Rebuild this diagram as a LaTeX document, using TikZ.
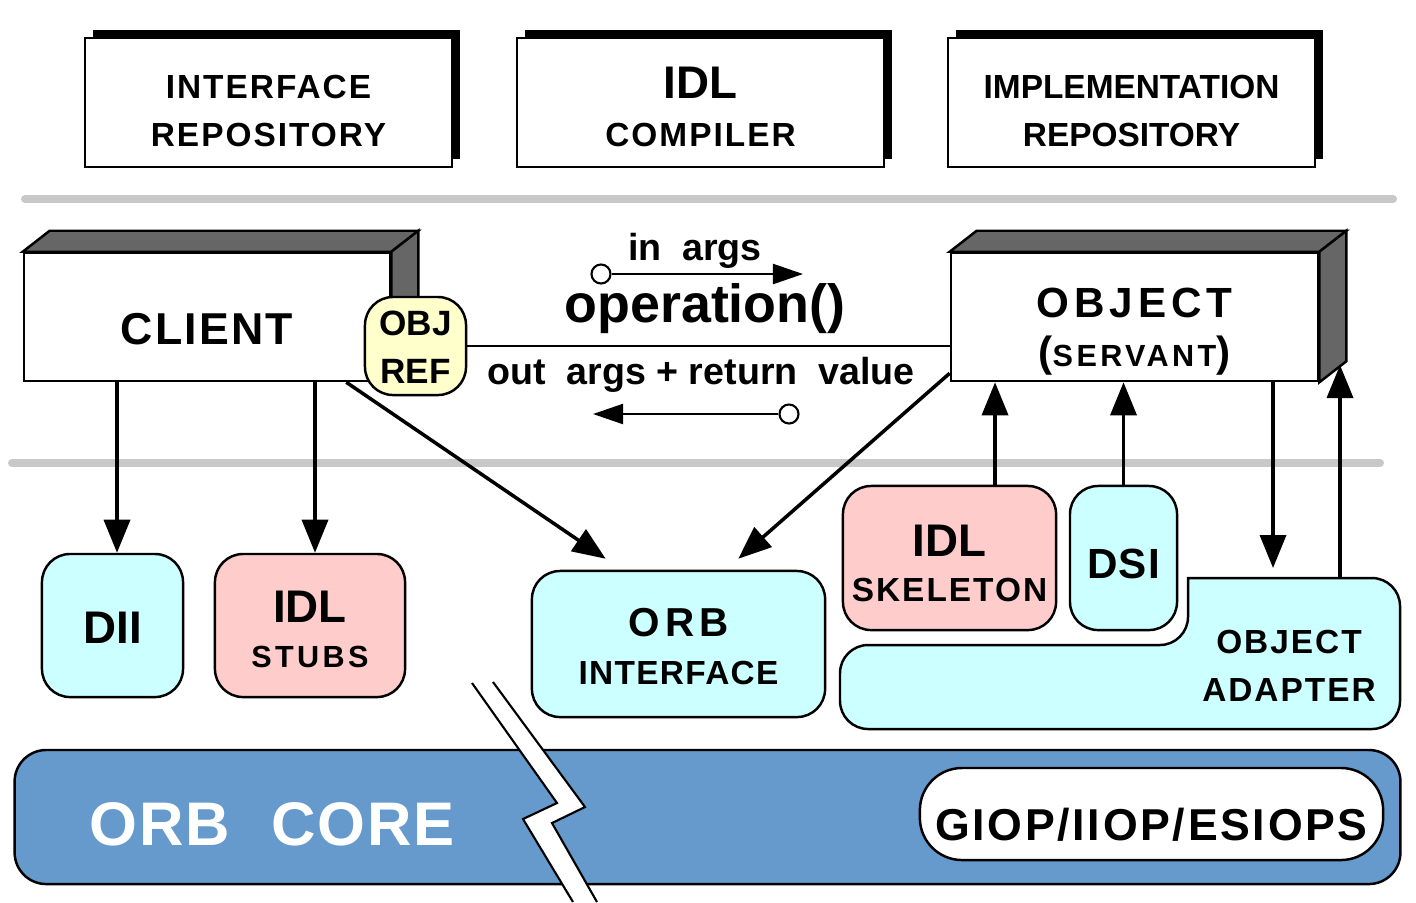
\documentclass[tikz,border=0pt]{standalone}
\usepackage{fontspec}
\setmainfont{Liberation Sans}
\usetikzlibrary{arrows.meta,shadows}

\definecolor{boxcyan}{HTML}{CCFFFF}
\definecolor{boxpink}{HTML}{FFCCCC}
\definecolor{refyellow}{HTML}{FFFFCC}
\definecolor{coreblue}{HTML}{6699CC}
\definecolor{sepgray}{HTML}{C8C8C8}
% bold Arial-like text of a given size and letter spacing
\newcommand{\bsz}[2]{\bfseries\fontsize{#1}{13.5}\selectfont\addfontfeature{LetterSpace=#2}}

\begin{document}
\begin{tikzpicture}[x=0.01cm,y=-0.01cm,
  topbox/.style={draw,fill=white,line width=0.7pt,inner sep=1pt,align=center,
    minimum width=3.67cm,minimum height=1.29cm,text depth=0pt,text height=0.87cm,
    font=\bsz{9.5}{6},
    drop shadow={shadow xshift=0.08cm,shadow yshift=0.08cm,fill=black,opacity=1}},
  face/.style={draw,fill=white,line width=0.7pt,inner sep=1pt,align=center,
    minimum width=3.67cm,minimum height=1.28cm,text depth=0pt},
  sideface/.style={draw,fill=black!60,line width=0.7pt},
  orbbox/.style={draw,line width=0.7pt,rounded corners=8pt,inner sep=1pt,align=center,
    text depth=0pt,font=\bsz{13}{0}},
  arr/.style={line width=1pt,-{Triangle[length=0.33cm,width=0.26cm]}},
  thinarr/.style={line width=0.6pt,-{Triangle[length=0.3cm,width=0.2cm]}},
  port/.style={circle,draw,fill=white,line width=0.6pt,inner sep=0pt,minimum size=0.19cm},
  divider/.style={line width=0.08cm,sepgray,line cap=round}]
\useasboundingbox (0,0) rectangle (1416,902);

% separators
\draw[divider] (25,199) -- (1393,199);
\draw[divider] (12,463) -- (1380,463);

% top row
\node[topbox] (ir) at (268.5,102.5) {INTERFACE\\REPOSITORY};
\node[topbox] (idlc) at (700.5,102.5) {{\bsz{13}{0}IDL}\\COMPILER};
\node[topbox,font=\bsz{9.5}{0}] (impl) at (1131.5,102.5) {IMPLEMENTATION\\REPOSITORY};

% client and servant
\node[face,minimum width=3.66cm,text height=0.54cm,font=\bsz{12.7}{5}] (client) at (207,317) {CLIENT};
\draw[sideface] (client.north west) -- ++(27,-21) -- ([shift={(27,-21)}]client.north east) -- (client.north east) -- cycle;
\draw[sideface] (client.north east) -- ++(27,-21) -- ([shift={(27,-21)}]client.south east) -- (client.south east) -- cycle;
\node[draw,fill=refyellow,rounded corners=8pt,line width=0.7pt,minimum width=1.01cm,minimum height=0.98cm,
  inner sep=1pt,align=center,text depth=0pt,text height=0.74cm,font=\bsz{10}{0}] (objref) at (415.5,346) {OBJ\\REF};

\node[face,text height=0.98cm,font=\bsz{12}{12}\fontsize{12}{13.7}\selectfont] (obj) at (1134.5,317)
  {OBJECT\\{\bsz{12}{0}(}{\bsz{8.7}{11}SERVANT}{\bsz{12}{0})}};
\draw[sideface] (obj.north west) -- ++(27,-21) -- ([shift={(27,-21)}]obj.north east) -- (obj.north east) -- cycle;
\draw[sideface] (obj.north east) -- ++(27,-21) -- ([shift={(27,-21)}]obj.south east) -- (obj.south east) -- cycle;

\draw[line width=0.6pt] (objref.east) -- (objref.east -| obj.west);

% request and reply
\node[anchor=base,font=\bsz{10.7}{0}] (inargs) at (695,260) {in\ \ args};
\node[port] (inport) at (601,274) {};
\coordinate (inend) at (803,274);
\draw[thinarr] (inport) -- (inend);
\node[anchor=base,font=\bsz{15.3}{0}] (op) at (705,322) {operation()};
\node[anchor=base,font=\bsz{10.7}{0}] (outargs) at (701,384) {out\ \ args + return\ \ value};
\node[port] (outport) at (789,414) {};
\coordinate (outend) at (593,414);
\draw[thinarr] (outport) -- (outend);

% orb interfaces
\node[orbbox,fill=boxcyan,minimum width=1.41cm,minimum height=1.43cm,text height=0.36cm] (dii) at (112.5,625.5) {DII};
\node[orbbox,fill=boxpink,minimum width=1.9cm,minimum height=1.43cm,text height=0.83cm,
  font=\bsz{13}{0}\fontsize{13}{12.8}\selectfont] (stubs) at (310,625.5) {IDL\\{\bsz{8.7}{11}STUBS}};
\node[orbbox,fill=boxcyan,minimum width=2.93cm,minimum height=1.46cm,text height=0.80cm,
  font=\bsz{11.5}{13}\fontsize{11.5}{13.4}\selectfont] (orbi) at (678.5,644) {ORB\\{\bsz{9.5}{4}INTERFACE}};
\node[orbbox,fill=boxpink,minimum width=2.13cm,minimum height=1.44cm,text height=0.86cm,
  font=\bsz{13}{0}\fontsize{13}{12.8}\selectfont] (skel) at (949.5,558) {IDL\\{\bsz{9.5}{6}SKELETON}};
\node[orbbox,fill=boxcyan,minimum width=1.07cm,minimum height=1.44cm,text height=0.40cm,
  font=\bsz{12}{3}] (dsi) at (1123.5,558) {DSI};

% object adapter
\filldraw[fill=boxcyan,line width=0.7pt] (1000,729) [rounded corners=8pt] -- (840,729) -- (840,645) -- (1188,645)
  [sharp corners] -- (1188,578) [rounded corners=8pt] -- (1400,578) -- (1400,729) -- cycle;
\node[align=center,text depth=0pt,text height=0.72cm,font=\bsz{9.5}{6}\fontsize{9.5}{13.4}\selectfont] (oa) at (1289,665) {OBJECT\\ADAPTER};

% calls
\coordinate (a1) at ([xshift=0.045cm]dii.north);
\draw[arr] (a1 |- client.south) -- (a1);
\coordinate (a2) at ([xshift=0.05cm]stubs.north);
\draw[arr] (a2 |- client.south) -- (a2);
\draw[arr] ([xshift=-0.45cm]client.south east) -- ([shift={(75,-11)}]orbi.north west);
\draw[arr] ([yshift=0.09cm]obj.south west) -- ([shift={(-88,-11)}]orbi.north east);
\coordinate (a3) at ([xshift=0.455cm]skel.north);
\draw[arr] (a3) -- (a3 |- obj.south);
\draw[arr] (dsi.north) -- (dsi.north |- obj.south);
\coordinate (oadown) at (1273,568);
\draw[arr] (oadown |- obj.south) -- (oadown);
\coordinate (oaup) at (1340,578);
\coordinate (objside) at (1340,365);
\draw[arr] (oaup) -- (objside);

% orb core
\node[draw,fill=coreblue,rounded corners=9pt,line width=0.7pt,minimum height=1.34cm,text width=12.35cm,
  inner xsep=0.75cm,align=left,text depth=0pt,text height=0.56cm,text=white,
  font=\bsz{17.5}{3}] (core) at (707.5,817) {ORB\ \ CORE};
\node[draw,fill=white,rounded corners=12pt,line width=0.7pt,minimum width=4.63cm,minimum height=0.92cm,
  inner sep=1pt,text depth=0pt,text height=0.52cm,font=\bsz{12.7}{6}] (giop) at (1151.5,814) {GIOP/IIOP/ESIOPS};

% break
\fill[white] (472,683) -- (557,803) -- (523,819) -- (573,902) -- (597,902) -- (552,823) -- (585,807) -- (493,682) -- cycle;
\draw[line width=0.6pt] (472,683) -- (557,803) -- (523,819) -- (573,902);
\draw[line width=0.6pt] (493,682) -- (585,807) -- (552,823) -- (597,902);
\end{tikzpicture}
\end{document}
